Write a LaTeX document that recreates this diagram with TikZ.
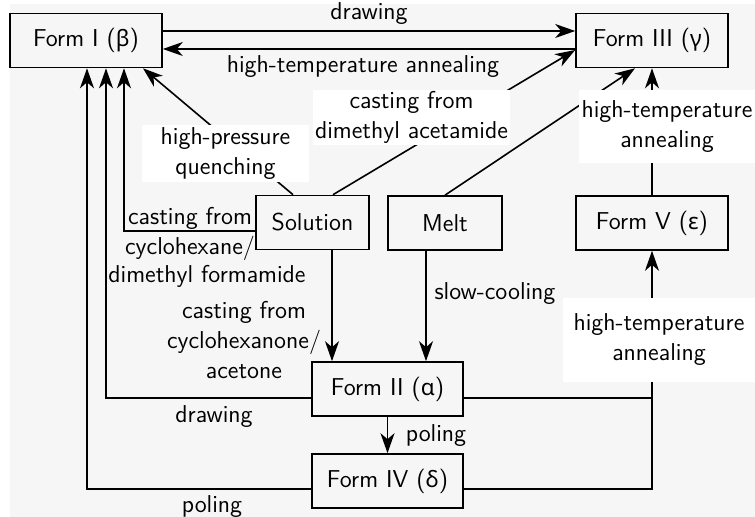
\documentclass[tikz,border=0pt]{standalone}
\usepackage{fontspec}
\usetikzlibrary{arrows.meta}
\newfontfamily\grk{Noto Sans}[Scale=0.92]
\definecolor{bggrey}{RGB}{246,246,246}

\begin{document}
\begin{tikzpicture}[x=0.5pt,y=-0.5pt,line width=0.8pt,
    >={Stealth[length=10pt,width=7pt,inset=3pt]},
    every node/.style={font=\sffamily\fontsize{12.2}{15}\selectfont},
    box/.style={draw,minimum height=27pt,inner sep=0pt},
    lbl/.style={fill=white,inner sep=0pt,align=center},
    txt/.style={inner sep=0pt,align=center}]
\useasboundingbox (0,0) rectangle (755,517);
\fill[bggrey] (10,4) rectangle (755,517);
% the forms
\node[box,minimum width=76pt] (f1) at (86,40.5) {Form I ({\grk β})};
\node[box,minimum width=76pt] (f3) at (652,40.5) {Form III ({\grk γ})};
\node[box,minimum width=56.5pt] (sol) at (312.5,222.5) {Solution};
\node[box,minimum width=57pt] (melt) at (445,223) {Melt};
\node[box,minimum width=76pt] (f5) at (652,223) {Form V ({\grk ε})};
\node[box,minimum width=75.5pt] (f2) at (387.5,389) {Form II ({\grk α})};
\node[box,minimum width=75.5pt] (f4) at (387.5,481) {Form IV ({\grk δ})};
% top pair
\draw[->] ([yshift=4.75pt]f1.east) -- node[txt,above=2.85pt] {drawing} ([yshift=4.75pt]f3.west);
\draw[->] ([yshift=-4.25pt]f3.west) -- node[txt,below=2.65pt,xshift=-3pt] {high-temperature annealing} ([yshift=-4.25pt]f1.west -| f1.east);
% from solution and melt
\draw[->] ([xshift=10.25pt]sol.north) -- ([yshift=-4.75pt]f3.west);
\node[lbl,minimum width=98.5pt,minimum height=27.5pt] (dma) at (411.5,117.5) {casting from\\dimethyl acetamide};
\draw[->] ([xshift=-9.75pt]sol.north) -- ([xshift=28.5pt]f1.south);
\node[lbl,minimum width=83.5pt,minimum height=28.5pt] (hpq) at (225.5,153.5) {high-pressure\\quenching};
\draw[->] (melt.north) -- ([xshift=-8.5pt]f3.south);
\draw[->] ([yshift=-4.25pt]sol.west) -| ([xshift=19pt]f1.south);
\node[txt] (cyc) at (190,234) {casting from\\cyclohexane/};
\node[txt,anchor=base] (dmf) at (207,283) {dimethyl formamide};
\draw[->] ([xshift=9.75pt]sol.south) -- ([xshift=9.75pt]sol.south |- f2.north);
\node[txt] (cyca) at (244,340) {casting from\\cyclohexanone/\\acetone};
\draw[->] ([xshift=-9.5pt]melt.south) -- ([xshift=-9.5pt]melt.south |- f2.north);
\node[txt,anchor=base] (slow) at (495,300) {slow-cooling};
% back to form I
\draw[->] ([yshift=-4.5pt]f2.west) -| ([xshift=10pt]f1.south);
\node[txt,anchor=base] (drw) at (214,423) {drawing};
\draw[->] ([yshift=-4pt]f4.west) -| ([xshift=0.5pt]f1.south);
\node[txt,anchor=base] (pol) at (212,513) {poling};
\draw[->] (f2) -- (f4);
\node[txt,anchor=base] (pol2) at (436,442) {poling};
% right side
\coordinate (jn) at (652,398);
\draw ([yshift=-4.5pt]f2.east) -- (jn);
\draw[->] ([yshift=-4pt]f4.east) -| (f5.south);
\node[lbl,minimum width=96.5pt,minimum height=42pt] (ann2) at (659,340) {high-temperature\\annealing};
\draw[->] (f5) -- (f3);
\node[lbl,minimum width=88pt,minimum height=36.5pt] (ann1) at (667,126.5) {high-temperature\\annealing};
\end{tikzpicture}
\end{document}
